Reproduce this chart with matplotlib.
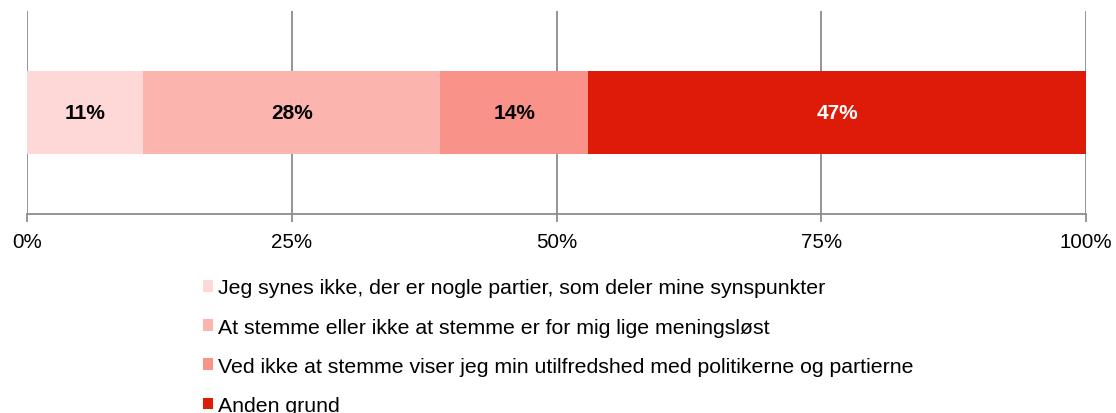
import matplotlib
matplotlib.use('Agg')
import matplotlib.pyplot as plt
from matplotlib.patches import Patch

plt.rcParams['font.family'] = ['Liberation Sans', 'DejaVu Sans']

# shares of answers (percent)
labels = ['Jeg synes ikke, der er nogle partier, som deler mine synspunkter',
          'At stemme eller ikke at stemme er for mig lige meningsløst',
          'Ved ikke at stemme viser jeg min utilfredshed med politikerne og partierne',
          'Anden grund']
values = [11, 28, 14, 47]
colors = ['#fdd8d6', '#fbb5ae', '#f9938a', '#de1b09']
text_colors = ['black', 'black', 'black', 'white']
xticks = [0, 25, 50, 75, 100]

fig = plt.figure(figsize=(11.16, 4.14), dpi=100)
ax = fig.add_axes([27/1116, 1 - 215/414, (1086 - 27)/1116, (215 - 12)/414])

left = 0
for v, c, tc in zip(values, colors, text_colors):
    ax.barh(0, v, left=left, height=0.404, color=c, zorder=3)
    ax.text(left + v/2, 0, f'{v}%', ha='center', va='center',
            fontsize=15, fontweight='bold', color=tc, zorder=4)
    left += v

ax.set_xlim(0, 100)
ax.set_ylim(-0.5, 0.5)
ax.set_xticks(xticks)
ax.set_xticklabels([f'{t}%' for t in xticks], fontsize=14.8)
ax.set_yticks([])
ax.grid(axis='x', color='#8c8c8c', linewidth=1.3, zorder=0)
for s in ['top', 'right', 'left']:
    ax.spines[s].set_visible(False)
ax.spines['bottom'].set_color('#8c8c8c')
ax.spines['bottom'].set_linewidth(1.3)
ax.tick_params(axis='x', length=6, width=1.3, color='#8c8c8c', pad=7)

handles = [Patch(facecolor=c, edgecolor='none') for c in colors]
fig.legend(handles, labels, loc='upper left', bbox_to_anchor=(194/1116, 1 - 271/414),
           frameon=False, fontsize=15.3, handlelength=0.48, handleheight=0.48,
           handletextpad=0.24, labelspacing=0.95, borderaxespad=0)

fig.savefig('out.png', dpi=100)
